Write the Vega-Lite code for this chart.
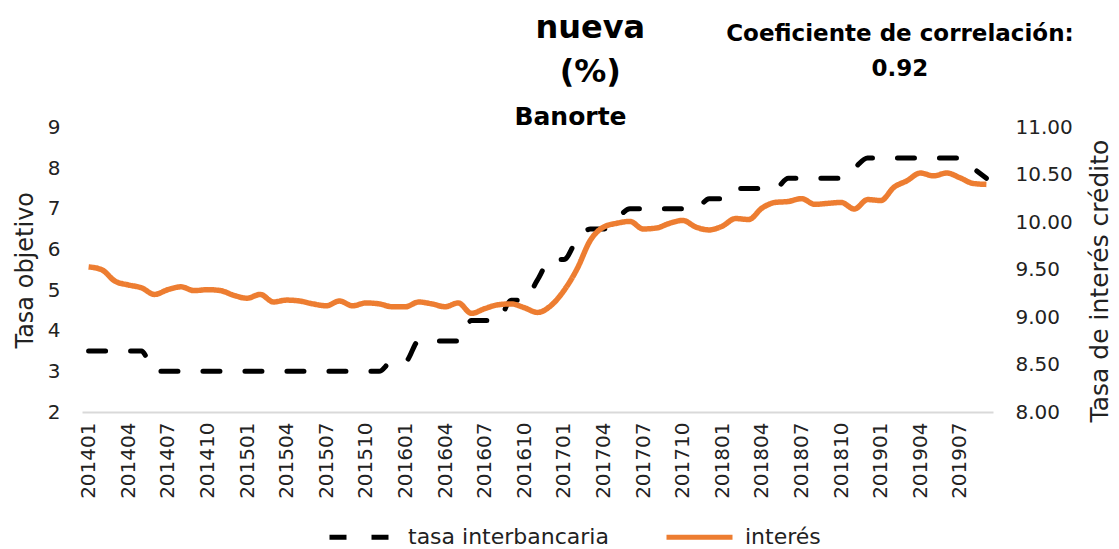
{
  "$schema": "https://vega.github.io/schema/vega-lite/v6.json",
  "width": 911,
  "height": 284.5,
  "autosize": "none",
  "padding": {"left": 82, "top": 127.5, "right": 126, "bottom": 137},
  "background": "white",
  "config": {
    "font": "DejaVu Sans",
    "view": {"stroke": null},
    "axis": {"labelColor": "#222222", "titleColor": "#222222", "grid": false, "ticks": false},
    "legend": {"labelColor": "#222222"}
  },
  "data": {"values": [
    {"mes": "201401", "serie": "tasa interbancaria", "valor": 3.5},
    {"mes": "201402", "serie": "tasa interbancaria", "valor": 3.5},
    {"mes": "201403", "serie": "tasa interbancaria", "valor": 3.5},
    {"mes": "201404", "serie": "tasa interbancaria", "valor": 3.5},
    {"mes": "201405", "serie": "tasa interbancaria", "valor": 3.5},
    {"mes": "201406", "serie": "tasa interbancaria", "valor": 3.0},
    {"mes": "201407", "serie": "tasa interbancaria", "valor": 3.0},
    {"mes": "201408", "serie": "tasa interbancaria", "valor": 3.0},
    {"mes": "201409", "serie": "tasa interbancaria", "valor": 3.0},
    {"mes": "201410", "serie": "tasa interbancaria", "valor": 3.0},
    {"mes": "201411", "serie": "tasa interbancaria", "valor": 3.0},
    {"mes": "201412", "serie": "tasa interbancaria", "valor": 3.0},
    {"mes": "201501", "serie": "tasa interbancaria", "valor": 3.0},
    {"mes": "201502", "serie": "tasa interbancaria", "valor": 3.0},
    {"mes": "201503", "serie": "tasa interbancaria", "valor": 3.0},
    {"mes": "201504", "serie": "tasa interbancaria", "valor": 3.0},
    {"mes": "201505", "serie": "tasa interbancaria", "valor": 3.0},
    {"mes": "201506", "serie": "tasa interbancaria", "valor": 3.0},
    {"mes": "201507", "serie": "tasa interbancaria", "valor": 3.0},
    {"mes": "201508", "serie": "tasa interbancaria", "valor": 3.0},
    {"mes": "201509", "serie": "tasa interbancaria", "valor": 3.0},
    {"mes": "201510", "serie": "tasa interbancaria", "valor": 3.0},
    {"mes": "201511", "serie": "tasa interbancaria", "valor": 3.0},
    {"mes": "201512", "serie": "tasa interbancaria", "valor": 3.25},
    {"mes": "201601", "serie": "tasa interbancaria", "valor": 3.25},
    {"mes": "201602", "serie": "tasa interbancaria", "valor": 3.75},
    {"mes": "201603", "serie": "tasa interbancaria", "valor": 3.75},
    {"mes": "201604", "serie": "tasa interbancaria", "valor": 3.75},
    {"mes": "201605", "serie": "tasa interbancaria", "valor": 3.75},
    {"mes": "201606", "serie": "tasa interbancaria", "valor": 4.25},
    {"mes": "201607", "serie": "tasa interbancaria", "valor": 4.25},
    {"mes": "201608", "serie": "tasa interbancaria", "valor": 4.25},
    {"mes": "201609", "serie": "tasa interbancaria", "valor": 4.75},
    {"mes": "201610", "serie": "tasa interbancaria", "valor": 4.75},
    {"mes": "201611", "serie": "tasa interbancaria", "valor": 5.25},
    {"mes": "201612", "serie": "tasa interbancaria", "valor": 5.75},
    {"mes": "201701", "serie": "tasa interbancaria", "valor": 5.75},
    {"mes": "201702", "serie": "tasa interbancaria", "valor": 6.25},
    {"mes": "201703", "serie": "tasa interbancaria", "valor": 6.5},
    {"mes": "201704", "serie": "tasa interbancaria", "valor": 6.5},
    {"mes": "201705", "serie": "tasa interbancaria", "valor": 6.75},
    {"mes": "201706", "serie": "tasa interbancaria", "valor": 7.0},
    {"mes": "201707", "serie": "tasa interbancaria", "valor": 7.0},
    {"mes": "201708", "serie": "tasa interbancaria", "valor": 7.0},
    {"mes": "201709", "serie": "tasa interbancaria", "valor": 7.0},
    {"mes": "201710", "serie": "tasa interbancaria", "valor": 7.0},
    {"mes": "201711", "serie": "tasa interbancaria", "valor": 7.0},
    {"mes": "201712", "serie": "tasa interbancaria", "valor": 7.25},
    {"mes": "201801", "serie": "tasa interbancaria", "valor": 7.25},
    {"mes": "201802", "serie": "tasa interbancaria", "valor": 7.5},
    {"mes": "201803", "serie": "tasa interbancaria", "valor": 7.5},
    {"mes": "201804", "serie": "tasa interbancaria", "valor": 7.5},
    {"mes": "201805", "serie": "tasa interbancaria", "valor": 7.5},
    {"mes": "201806", "serie": "tasa interbancaria", "valor": 7.75},
    {"mes": "201807", "serie": "tasa interbancaria", "valor": 7.75},
    {"mes": "201808", "serie": "tasa interbancaria", "valor": 7.75},
    {"mes": "201809", "serie": "tasa interbancaria", "valor": 7.75},
    {"mes": "201810", "serie": "tasa interbancaria", "valor": 7.75},
    {"mes": "201811", "serie": "tasa interbancaria", "valor": 8.0},
    {"mes": "201812", "serie": "tasa interbancaria", "valor": 8.25},
    {"mes": "201901", "serie": "tasa interbancaria", "valor": 8.25},
    {"mes": "201902", "serie": "tasa interbancaria", "valor": 8.25},
    {"mes": "201903", "serie": "tasa interbancaria", "valor": 8.25},
    {"mes": "201904", "serie": "tasa interbancaria", "valor": 8.25},
    {"mes": "201905", "serie": "tasa interbancaria", "valor": 8.25},
    {"mes": "201906", "serie": "tasa interbancaria", "valor": 8.25},
    {"mes": "201907", "serie": "tasa interbancaria", "valor": 8.25},
    {"mes": "201908", "serie": "tasa interbancaria", "valor": 8.0},
    {"mes": "201909", "serie": "tasa interbancaria", "valor": 7.75},
    {"mes": "201401", "serie": "interés", "valor": 9.53},
    {"mes": "201402", "serie": "interés", "valor": 9.50},
    {"mes": "201403", "serie": "interés", "valor": 9.38},
    {"mes": "201404", "serie": "interés", "valor": 9.34},
    {"mes": "201405", "serie": "interés", "valor": 9.31},
    {"mes": "201406", "serie": "interés", "valor": 9.24},
    {"mes": "201407", "serie": "interés", "valor": 9.29},
    {"mes": "201408", "serie": "interés", "valor": 9.32},
    {"mes": "201409", "serie": "interés", "valor": 9.28},
    {"mes": "201410", "serie": "interés", "valor": 9.29},
    {"mes": "201411", "serie": "interés", "valor": 9.28},
    {"mes": "201412", "serie": "interés", "valor": 9.23},
    {"mes": "201501", "serie": "interés", "valor": 9.20},
    {"mes": "201502", "serie": "interés", "valor": 9.24},
    {"mes": "201503", "serie": "interés", "valor": 9.16},
    {"mes": "201504", "serie": "interés", "valor": 9.18},
    {"mes": "201505", "serie": "interés", "valor": 9.17},
    {"mes": "201506", "serie": "interés", "valor": 9.14},
    {"mes": "201507", "serie": "interés", "valor": 9.12},
    {"mes": "201508", "serie": "interés", "valor": 9.17},
    {"mes": "201509", "serie": "interés", "valor": 9.12},
    {"mes": "201510", "serie": "interés", "valor": 9.15},
    {"mes": "201511", "serie": "interés", "valor": 9.14},
    {"mes": "201512", "serie": "interés", "valor": 9.11},
    {"mes": "201601", "serie": "interés", "valor": 9.11},
    {"mes": "201602", "serie": "interés", "valor": 9.16},
    {"mes": "201603", "serie": "interés", "valor": 9.14},
    {"mes": "201604", "serie": "interés", "valor": 9.11},
    {"mes": "201605", "serie": "interés", "valor": 9.15},
    {"mes": "201606", "serie": "interés", "valor": 9.04},
    {"mes": "201607", "serie": "interés", "valor": 9.09},
    {"mes": "201608", "serie": "interés", "valor": 9.13},
    {"mes": "201609", "serie": "interés", "valor": 9.14},
    {"mes": "201610", "serie": "interés", "valor": 9.10},
    {"mes": "201611", "serie": "interés", "valor": 9.05},
    {"mes": "201612", "serie": "interés", "valor": 9.12},
    {"mes": "201701", "serie": "interés", "valor": 9.28},
    {"mes": "201702", "serie": "interés", "valor": 9.51},
    {"mes": "201703", "serie": "interés", "valor": 9.81},
    {"mes": "201704", "serie": "interés", "valor": 9.95},
    {"mes": "201705", "serie": "interés", "valor": 9.99},
    {"mes": "201706", "serie": "interés", "valor": 10.01},
    {"mes": "201707", "serie": "interés", "valor": 9.93},
    {"mes": "201708", "serie": "interés", "valor": 9.94},
    {"mes": "201709", "serie": "interés", "valor": 9.99},
    {"mes": "201710", "serie": "interés", "valor": 10.02},
    {"mes": "201711", "serie": "interés", "valor": 9.95},
    {"mes": "201712", "serie": "interés", "valor": 9.92},
    {"mes": "201801", "serie": "interés", "valor": 9.96},
    {"mes": "201802", "serie": "interés", "valor": 10.04},
    {"mes": "201803", "serie": "interés", "valor": 10.03},
    {"mes": "201804", "serie": "interés", "valor": 10.15},
    {"mes": "201805", "serie": "interés", "valor": 10.21},
    {"mes": "201806", "serie": "interés", "valor": 10.22},
    {"mes": "201807", "serie": "interés", "valor": 10.25},
    {"mes": "201808", "serie": "interés", "valor": 10.19},
    {"mes": "201809", "serie": "interés", "valor": 10.20},
    {"mes": "201810", "serie": "interés", "valor": 10.21},
    {"mes": "201811", "serie": "interés", "valor": 10.14},
    {"mes": "201812", "serie": "interés", "valor": 10.24},
    {"mes": "201901", "serie": "interés", "valor": 10.23},
    {"mes": "201902", "serie": "interés", "valor": 10.37},
    {"mes": "201903", "serie": "interés", "valor": 10.44},
    {"mes": "201904", "serie": "interés", "valor": 10.52},
    {"mes": "201905", "serie": "interés", "valor": 10.49},
    {"mes": "201906", "serie": "interés", "valor": 10.52},
    {"mes": "201907", "serie": "interés", "valor": 10.47},
    {"mes": "201908", "serie": "interés", "valor": 10.41},
    {"mes": "201909", "serie": "interés", "valor": 10.40}
  ]},
  "encoding": {
    "x": {
      "field": "mes", "type": "ordinal",
      "scale": {"type": "point", "padding": 0.5},
      "axis": {
        "title": null,
        "values": ["201401","201404","201407","201410","201501","201504","201507","201510","201601","201604","201607","201610","201701","201704","201707","201710","201801","201804","201807","201810","201901","201904","201907"],
        "labelAngle": -90, "labelFontSize": 20, "labelPadding": 10,
        "domainColor": "#D9D9D9", "domainWidth": 2, "ticks": false, "grid": false
      }
    }
  },
  "layer": [
    {
      "transform": [{"filter": "datum.serie === 'tasa interbancaria'"}],
      "mark": {"type": "line", "strokeWidth": 5, "strokeCap": "round", "interpolate": "monotone"},
      "encoding": {
        "y": {
          "field": "valor", "type": "quantitative",
          "scale": {"domain": [2, 9], "zero": false, "nice": false},
          "axis": {"title": "Tasa objetivo", "values": [2,3,4,5,6,7,8,9], "labelFontSize": 20, "titleFontSize": 24, "titleFontWeight": "normal", "domain": false, "labelPadding": 22, "titlePadding": 10}
        },
        "color": {"field": "serie", "type": "nominal", "scale": {"domain": ["tasa interbancaria", "interés"], "range": ["#000000", "#ED7D31"]},
          "legend": {"title": null, "orient": "none", "legendX": 245, "legendY": 374, "direction": "horizontal", "labelFontSize": 22, "labelLimit": 400, "symbolType": "stroke", "symbolSize": 4356, "symbolStrokeWidth": 5, "columnPadding": 47, "labelOffset": 10}},
        "strokeDash": {"field": "serie", "type": "nominal", "scale": {"domain": ["tasa interbancaria", "interés"], "range": [[17, 25], [1, 0]]}}
      }
    },
    {
      "transform": [{"filter": "datum.serie === 'interés'"}],
      "mark": {"type": "line", "strokeWidth": 5.5, "interpolate": "monotone"},
      "encoding": {
        "y": {
          "field": "valor", "type": "quantitative",
          "scale": {"domain": [8, 11], "zero": false, "nice": false},
          "axis": {"orient": "right", "title": "Tasa de interés crédito", "format": ".2f", "values": [8, 8.5, 9, 9.5, 10, 10.5, 11], "labelFontSize": 20, "titleFontSize": 25, "titleFontWeight": "normal", "titleAngle": 270, "titleY": 153, "domain": false, "labelPadding": 22, "titlePadding": 40}
        },
        "color": {"field": "serie", "type": "nominal", "scale": {"domain": ["tasa interbancaria", "interés"], "range": ["#000000", "#ED7D31"]}},
        "strokeDash": {"field": "serie", "type": "nominal", "scale": {"domain": ["tasa interbancaria", "interés"], "range": [[17, 25], [1, 0]]}}
      }
    },
    {
      "data": {"values": [{}]},
      "mark": {"type": "text", "text": ["nueva", "(%)"], "fontSize": 32, "fontWeight": "bold", "lineHeight": 44, "baseline": "alphabetic", "align": "center", "color": "#000000"},
      "encoding": {
        "x": {"datum": "201703"},
        "y": {"datum": 11.19, "type": "quantitative", "scale": {"domain": [2, 9], "zero": false, "nice": false}, "axis": null}
      }
    },
    {
      "data": {"values": [{}]},
      "mark": {"type": "text", "text": "Banorte", "fontSize": 25, "fontWeight": "bold", "baseline": "alphabetic", "align": "center", "dx": 6.6, "color": "#000000"},
      "encoding": {
        "x": {"datum": "201701"},
        "y": {"datum": 9.07, "type": "quantitative", "scale": {"domain": [2, 9], "zero": false, "nice": false}, "axis": null}
      }
    },
    {
      "data": {"values": [{}]},
      "mark": {"type": "text", "text": ["Coeficiente de correlación:", "0.92"], "fontSize": 23, "fontWeight": "bold", "lineHeight": 35, "baseline": "alphabetic", "align": "center", "dx": 6, "color": "#000000"},
      "encoding": {
        "x": {"datum": "201902"},
        "y": {"datum": 11.12, "type": "quantitative", "scale": {"domain": [2, 9], "zero": false, "nice": false}, "axis": null}
      }
    }
  ],
  "resolve": {"scale": {"y": "independent"}}
}
